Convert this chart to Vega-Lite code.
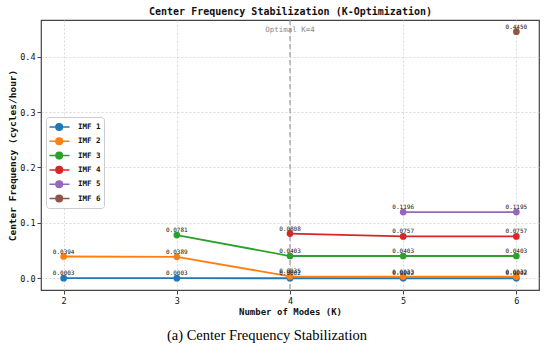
{
  "$schema": "https://vega.github.io/schema/vega-lite/v6.json",
  "autosize": {"type": "none"},
  "width": 498,
  "height": 270,
  "padding": {"left": 41, "top": 20, "right": 11, "bottom": 61},
  "background": "white",
  "config": {
    "view": {"stroke": "#444", "strokeWidth": 1.2},
    "axis": {
      "domain": false,
      "labelFont": "DejaVu Sans Mono",
      "labelFontSize": 8.5,
      "labelColor": "#111",
      "tickColor": "#444",
      "tickSize": 4,
      "labelPadding": 2,
      "gridColor": "#cfcfcf",
      "gridDash": [2, 2],
      "gridWidth": 0.8,
      "titleFont": "DejaVu Sans Mono",
      "titleFontSize": 9,
      "titleFontWeight": "bold",
      "titleColor": "#111"
    }
  },
  "title": {
    "text": "(a) Center Frequency Stabilization",
    "orient": "bottom",
    "anchor": "middle",
    "dx": -23,
    "font": "Liberation Serif",
    "fontSize": 14.5,
    "fontWeight": "normal",
    "color": "#000",
    "offset": 12
  },
  "datasets": {
    "freqs": [
      {"k": 2, "imf": "IMF 1", "freq": 0.0003},
      {"k": 3, "imf": "IMF 1", "freq": 0.0003},
      {"k": 4, "imf": "IMF 1", "freq": 0.0002},
      {"k": 5, "imf": "IMF 1", "freq": 0.0002},
      {"k": 6, "imf": "IMF 1", "freq": 0.0002},
      {"k": 2, "imf": "IMF 2", "freq": 0.0394},
      {"k": 3, "imf": "IMF 2", "freq": 0.0389},
      {"k": 4, "imf": "IMF 2", "freq": 0.0035},
      {"k": 5, "imf": "IMF 2", "freq": 0.0033},
      {"k": 6, "imf": "IMF 2", "freq": 0.0032},
      {"k": 3, "imf": "IMF 3", "freq": 0.0781},
      {"k": 4, "imf": "IMF 3", "freq": 0.0403},
      {"k": 5, "imf": "IMF 3", "freq": 0.0403},
      {"k": 6, "imf": "IMF 3", "freq": 0.0403},
      {"k": 4, "imf": "IMF 4", "freq": 0.0808},
      {"k": 5, "imf": "IMF 4", "freq": 0.0757},
      {"k": 6, "imf": "IMF 4", "freq": 0.0757},
      {"k": 5, "imf": "IMF 5", "freq": 0.1196},
      {"k": 6, "imf": "IMF 5", "freq": 0.1195},
      {"k": 6, "imf": "IMF 6", "freq": 0.4450}
    ],
    "optimal": [{"k": 4, "y": 0.4486, "label": "Optimal K=4"}]
  },
  "layer": [
    {
      "data": {"name": "optimal"},
      "mark": {"type": "rule", "color": "#888", "strokeDash": [5, 3], "strokeWidth": 1},
      "encoding": {
        "x": {
          "field": "k",
          "type": "quantitative",
          "title": "Number of Modes (K)",
          "scale": {"domain": [1.8, 6.2], "nice": false, "zero": false},
          "axis": {"orient": "bottom", "values": [2, 3, 4, 5, 6], "format": "d", "titlePadding": 3}
        }
      }
    },
    {
      "data": {"name": "optimal"},
      "mark": {"type": "rule", "opacity": 0},
      "encoding": {
        "x": {
          "field": "k",
          "type": "quantitative",
          "axis": {
            "orient": "top",
            "title": "Center Frequency Stabilization (K-Optimization)",
            "labels": false,
            "ticks": false,
            "grid": false,
            "domain": false,
            "titleFontSize": 10,
            "titlePadding": 4,
            "titleColor": "#111"
          }
        }
      }
    },
    {
      "data": {"name": "optimal"},
      "mark": {"type": "text", "color": "#888", "font": "DejaVu Sans Mono", "fontSize": 7.5, "baseline": "middle"},
      "encoding": {
        "x": {"field": "k", "type": "quantitative", "axis": null},
        "y": {
          "field": "y",
          "type": "quantitative",
          "title": "Center Frequency (cycles/hour)",
          "scale": {"domain": [-0.021, 0.466], "nice": false, "zero": false},
          "axis": {"values": [0, 0.1, 0.2, 0.3, 0.4], "format": ".1f", "titlePadding": 2, "titleFontSize": 9.5}
        },
        "text": {"field": "label"}
      }
    },
    {
      "data": {"name": "freqs"},
      "mark": {"type": "line", "strokeWidth": 1.8},
      "encoding": {
        "x": {"field": "k", "type": "quantitative", "axis": null},
        "y": {"field": "freq", "type": "quantitative"},
        "color": {
          "field": "imf",
          "type": "nominal",
          "scale": {
            "domain": ["IMF 1", "IMF 2", "IMF 3", "IMF 4", "IMF 5", "IMF 6"],
            "range": ["#1f77b4", "#ff7f0e", "#2ca02c", "#d62728", "#9467bd", "#8c564b"]
          },
          "legend": {
            "title": null,
            "orient": "none",
            "legendX": 5,
            "legendY": 97,
            "fillColor": "white",
            "strokeColor": "#cccccc",
            "cornerRadius": 3,
            "padding": 3,
            "rowPadding": 0.3,
            "symbolType": "M-1.083,0L2.25,0M1.083,0A0.55,0.55,0,1,1,-0.017,0A0.55,0.55,0,1,1,1.083,0Z",
            "symbolSize": 144,
            "symbolStrokeWidth": 1.5,
            "labelOffset": 15,
            "labelFont": "DejaVu Sans Mono",
            "labelFontSize": 7.5,
            "labelFontWeight": "bold",
            "labelColor": "#111",
            "encode": {
              "symbols": {
                "update": {
                  "fill": {"scale": "color", "field": "value"},
                  "stroke": {"scale": "color", "field": "value"},
                  "opacity": {"value": 1}
                }
              }
            }
          }
        }
      }
    },
    {
      "data": {"name": "freqs"},
      "mark": {"type": "point", "filled": true, "opacity": 1, "size": 45},
      "encoding": {
        "x": {"field": "k", "type": "quantitative", "axis": null},
        "y": {"field": "freq", "type": "quantitative"},
        "color": {"field": "imf", "type": "nominal"}
      }
    },
    {
      "data": {"name": "freqs"},
      "mark": {"type": "text", "font": "DejaVu Sans Mono", "fontSize": 6, "color": "#111", "baseline": "bottom", "dy": -2},
      "encoding": {
        "x": {"field": "k", "type": "quantitative", "axis": null},
        "y": {"field": "freq", "type": "quantitative"},
        "text": {"field": "freq", "type": "quantitative", "format": ".4f"}
      }
    }
  ],
  "resolve": {"scale": {"x": "shared"}, "axis": {"x": "independent"}}
}
